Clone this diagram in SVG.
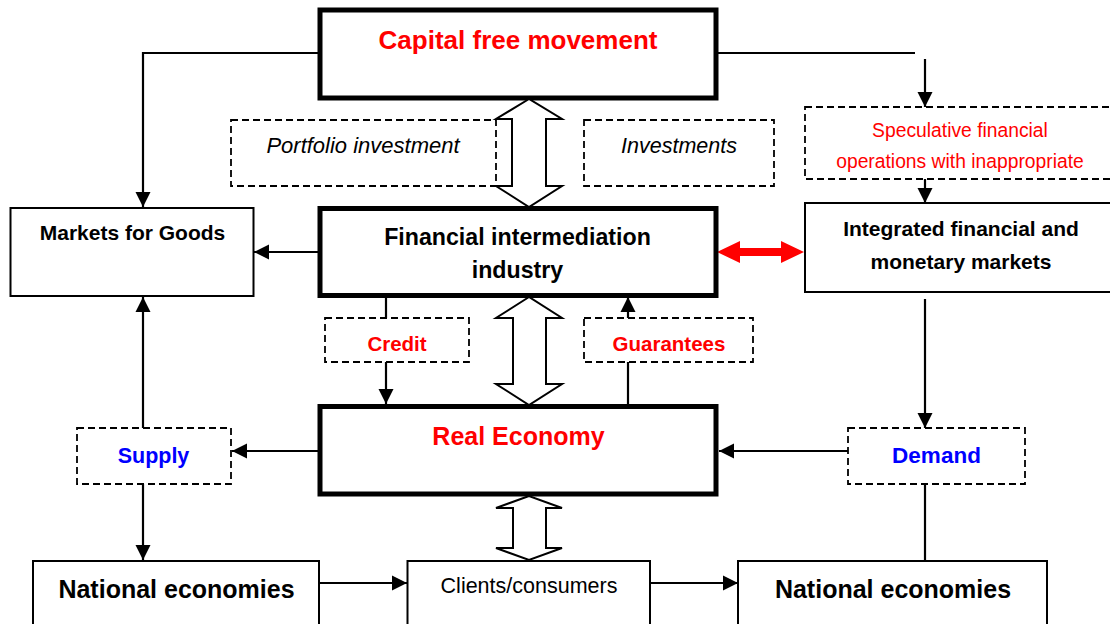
<svg xmlns="http://www.w3.org/2000/svg" width="1110" height="624" viewBox="0 0 1110 624">
<style>
.box{fill:#fff;stroke:#000;stroke-width:2}
.thick{fill:#fff;stroke:#000;stroke-width:5}
.dash{fill:#fff;stroke:#000;stroke-width:1.8;stroke-dasharray:7,4}
.ln{fill:none;stroke:#000;stroke-width:2.2}
.hollow{fill:#fff;stroke:#000;stroke-width:2;stroke-linejoin:miter}
text{font-family:"Liberation Sans",Arial,sans-serif;text-anchor:middle}
.b{font-weight:bold}
.red{fill:#ff0000}
.blue{fill:#0000ff}
.it{font-style:italic}
</style>
<defs>
<marker id="ah" viewBox="0 0 16 16" markerWidth="16" markerHeight="16" markerUnits="userSpaceOnUse" refX="15" refY="8" orient="auto">
<path d="M0,0.5 L15,8 L0,15.5 z" fill="#000"/>
</marker>
</defs>
<rect width="1110" height="624" fill="#fff"/>

<g id="connectors">
<polyline class="ln" points="320,53 143,53 143,207" marker-end="url(#ah)"/>
<line class="ln" x1="716" y1="53" x2="915" y2="53"/>
<line class="ln" x1="925" y1="59" x2="925" y2="107" marker-end="url(#ah)"/>
<line class="ln" x1="925" y1="179" x2="925" y2="203" marker-end="url(#ah)"/>
<line class="ln" x1="318" y1="252" x2="254" y2="252" marker-end="url(#ah)"/>
<polygon fill="#ff0000" points="717,252 740,241 740,248 781,248 781,241 804,252 781,263 781,256 740,256 740,263"/>
<line class="ln" x1="386" y1="297" x2="386" y2="318"/>
<line class="ln" x1="386" y1="362" x2="386" y2="404" marker-end="url(#ah)"/>
<line class="ln" x1="628" y1="404" x2="628" y2="362"/>
<line class="ln" x1="628" y1="318" x2="628" y2="297" marker-end="url(#ah)"/>
<line class="ln" x1="318" y1="451" x2="232" y2="451" marker-end="url(#ah)"/>
<line class="ln" x1="143" y1="428" x2="143" y2="297" marker-end="url(#ah)"/>
<line class="ln" x1="143" y1="484" x2="143" y2="560" marker-end="url(#ah)"/>
<line class="ln" x1="925" y1="299" x2="925" y2="428" marker-end="url(#ah)"/>
<line class="ln" x1="848" y1="451" x2="719" y2="451" marker-end="url(#ah)"/>
<line class="ln" x1="925" y1="484" x2="925" y2="561"/>
<line class="ln" x1="319" y1="583" x2="407" y2="583" marker-end="url(#ah)"/>
<line class="ln" x1="650" y1="583" x2="738" y2="583" marker-end="url(#ah)"/>
</g>

<g id="capital">
<rect class="thick" x="320" y="10" width="396" height="88"/>
<text class="b red" x="518" y="49" font-size="26">Capital free movement</text>
</g>
<g id="portfolio">
<rect class="dash" x="231" y="120" width="265" height="66"/>
<text class="it" x="363" y="153" font-size="22">Portfolio investment</text>
</g>
<g id="investments">
<rect class="dash" x="584" y="120" width="190" height="66"/>
<text class="it" x="679" y="153" font-size="21.5">Investments</text>
</g>
<g id="speculative">
<rect class="dash" x="805" y="107" width="320" height="72"/>
<text class="red" x="960" y="137" font-size="19.3">Speculative financial</text>
<text class="red" x="960" y="168" font-size="19.3">operations with inappropriate</text>
</g>
<g id="markets">
<rect class="box" x="10.5" y="208" width="243" height="88"/>
<text class="b" x="132.5" y="240" font-size="21">Markets for Goods</text>
</g>
<g id="financial">
<rect class="thick" x="320" y="208.5" width="396" height="87"/>
<text class="b" x="517.5" y="245" font-size="23.2">Financial intermediation</text>
<text class="b" x="517.5" y="278" font-size="23.2">industry</text>
</g>
<g id="integrated">
<rect class="box" x="805" y="203" width="320" height="89"/>
<text class="b" x="961" y="236" font-size="21">Integrated financial and</text>
<text class="b" x="961" y="269" font-size="21">monetary markets</text>
</g>
<g id="credit">
<rect class="dash" x="325" y="318" width="144" height="44"/>
<text class="b red" x="397" y="351" font-size="20.5">Credit</text>
</g>
<g id="guarantees">
<rect class="dash" x="584" y="318" width="169" height="44"/>
<text class="b red" x="669" y="351" font-size="20.5">Guarantees</text>
</g>
<g id="real">
<rect class="thick" x="320" y="406.5" width="396" height="87.5"/>
<text class="b red" x="518.5" y="445" font-size="25">Real Economy</text>
</g>
<g id="supply">
<rect class="dash" x="77" y="428" width="154" height="56"/>
<text class="b blue" x="153.5" y="463" font-size="21.5">Supply</text>
</g>
<g id="demand">
<rect class="dash" x="848" y="428" width="177" height="56"/>
<text class="b blue" x="936.5" y="463" font-size="22.5">Demand</text>
</g>
<g id="national-left">
<rect class="box" x="33" y="561" width="286" height="80"/>
<text class="b" x="176.5" y="598" font-size="25">National economies</text>
</g>
<g id="clients">
<rect class="box" x="407.5" y="561" width="242.5" height="80"/>
<text x="529" y="593" font-size="21.5">Clients/consumers</text>
</g>
<g id="national-right">
<rect class="box" x="738" y="561" width="309" height="80"/>
<text class="b" x="893" y="598" font-size="25">National economies</text>
</g>

<g id="hollow-arrows">
<polygon class="hollow" points="529,99 496,119 512,119 512,186 496,186 529,207 562,186 546,186 546,119 562,119"/>
<polygon class="hollow" points="529,297 496,318 513,318 513,384 496,384 529,405 562,384 546,384 546,318 562,318"/>
<polygon class="hollow" points="529,496 496,508 513,508 513,548 496,548 529,560 562,548 546,548 546,508 562,508"/>
</g>
</svg>
